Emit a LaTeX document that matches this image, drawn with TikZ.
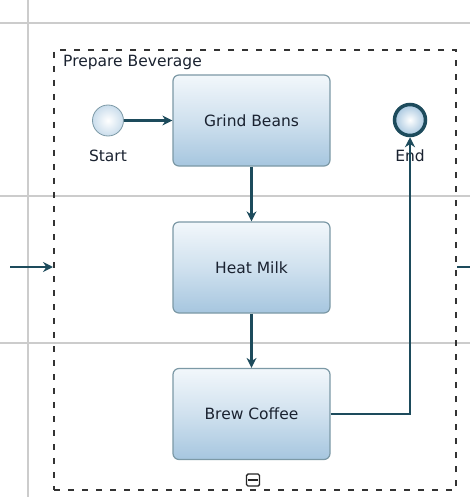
\documentclass[tikz,border=0pt]{standalone}
\usepackage{fontspec}
\setmainfont{DejaVu Sans}
\usetikzlibrary{arrows.meta,positioning}
\definecolor{conn}{HTML}{1D4B5C}
\definecolor{boxedge}{HTML}{7C99A6}
\definecolor{boxtop}{HTML}{F2F7FB}
\definecolor{boxbot}{HTML}{A6C6DF}
\definecolor{gridc}{HTML}{CCCCCC}
\definecolor{txt}{HTML}{1A2230}
\tikzset{
  x=1pt,y=-1pt,
  task/.style={draw=boxedge,line width=1.2pt,rounded corners=6pt,minimum width=157pt,minimum height=91pt,
    top color=boxtop,bottom color=boxbot,middle color=boxtop!55!boxbot,shading angle=0,
    font=\fontsize{15.5}{18}\selectfont,text=txt,inner sep=0pt},
  flow/.style={draw=conn,line width=2.4pt,-{Stealth[length=10pt,width=10pt]}},
  evstart/.style={circle,draw=boxedge,line width=0.8pt,minimum size=31pt,inner sep=0pt,
    inner color=white,outer color=boxbot!60},
  evend/.style={circle,draw=conn,line width=3.5pt,minimum size=31pt,inner sep=0pt,
    inner color=white,outer color=boxbot},
  lbl/.style={font=\fontsize{15.5}{18}\selectfont,text=txt,inner sep=0pt},
  gridl/.style={draw=gridc,line width=1.2pt},
}
\begin{document}
\begin{tikzpicture}
\useasboundingbox[fill=white] (0,0) rectangle (470,497);
% grid lines
\draw[gridl] (0,23) -- (470,23);
\draw[gridl] (0,196) -- (470,196);
\draw[gridl] (0,343) -- (470,343);
\draw[gridl] (28,0) -- (28,497);
% subprocess border
\node[draw=black!80,line width=2pt,dash pattern=on 6pt off 8pt,minimum width=402pt,minimum height=440pt,inner sep=0pt] (sub) at (255,270) {};
\node[lbl,anchor=base west] (title) at (63,67) {Prepare Beverage};
% tasks
\node[task] (grind) at (251.5,120.5) {Grind Beans};
\node[task] (heat) at (251.5,267.5) {Heat Milk};
\node[task] (brew) at (251.5,414) {Brew Coffee};
% events
\node[evstart] (start) at (108,120.5) {};
\node[lbl] (startl) at (108,156) {Start};
\node[evend] (end) at (410,120) {};
\node[lbl] (endl) at (410,156) {End};
% flows
\draw[flow] (start) -- (grind);
\draw[flow] (grind) -- (heat);
\draw[flow] (heat) -- (brew);
\draw[flow] (brew.east) -| (end.south);
% boundary connectors
\coordinate (inl) at (10,267);
\coordinate (outr) at (470,267);
\draw[flow] (inl) -- (sub.west |- inl);
\draw[draw=conn,line width=2.4pt] (sub.east |- outr) -- (outr);
% collapse marker
\node[draw=black!85,line width=1.4pt,rounded corners=1.5pt,minimum width=13pt,minimum height=12pt,inner sep=0pt,fill=white] (mark) at (253,480) {};
\draw[line width=2.4pt,black!85] ([xshift=2.5pt]mark.west) -- ([xshift=-2.5pt]mark.east);
\end{tikzpicture}
\end{document}
